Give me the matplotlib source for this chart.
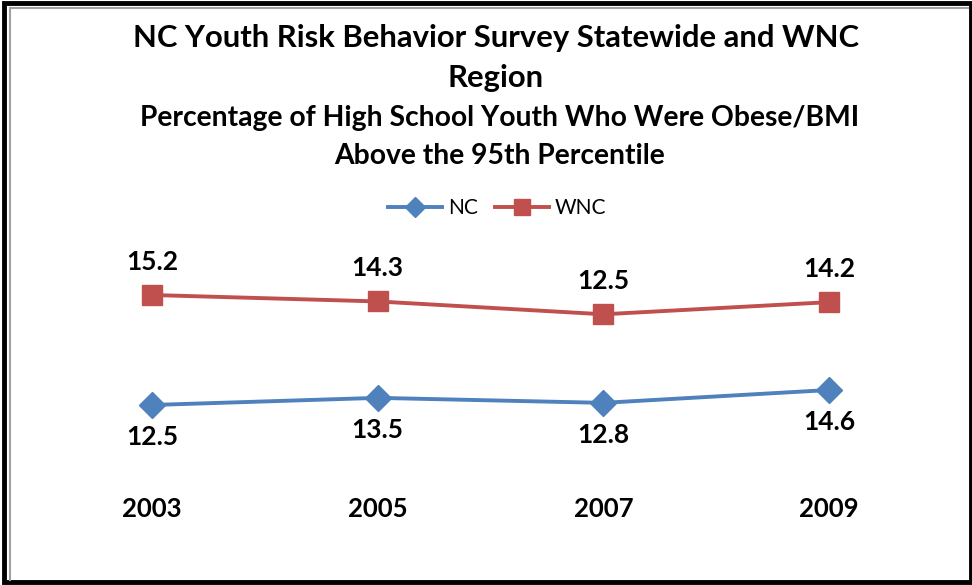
import matplotlib
matplotlib.use("Agg")
import matplotlib.pyplot as plt
from matplotlib.patches import Rectangle
from matplotlib.lines import Line2D

plt.rcParams["font.family"] = ["Lato", "DejaVu Sans"]

years = ["2003", "2005", "2007", "2009"]
nc_values = [12.5, 13.5, 12.8, 14.6]
wnc_values = [15.2, 14.3, 12.5, 14.2]

blue = "#4F81BD"
red = "#C0504D"

W, H = 972, 585
fig = plt.figure(figsize=(W / 100, H / 100), dpi=100)

# frame: grey inner edge on left/top, heavy black outer border
fig.lines.append(Line2D([9.5 / W, 9.5 / W], [5 / H, 1 - 7.5 / H], transform=fig.transFigure,
                        color="#a0a0a0", linewidth=1.5))
fig.lines.append(Line2D([9.5 / W, 968 / W], [1 - 7.5 / H, 1 - 7.5 / H], transform=fig.transFigure,
                        color="#a0a0a0", linewidth=1.5))
fig.patches.append(Rectangle((4 / W, 3 / H), 967 / W, 579 / H, transform=fig.transFigure,
                             fill=False, edgecolor="black", linewidth=3.5))

fig.text(496 / W, 1 - 38 / H, "NC Youth Risk Behavior Survey Statewide and WNC",
         ha="center", va="center", fontsize=22.3, fontweight="bold")
fig.text(496 / W, 1 - 78 / H, "Region", ha="center", va="center", fontsize=22.3, fontweight="bold")
fig.text(500 / W, 1 - 118 / H, "Percentage of High School Youth Who Were Obese/BMI",
         ha="center", va="center", fontsize=20.3, fontweight="bold")
fig.text(500 / W, 1 - 156 / H, "Above the 95th Percentile",
         ha="center", va="center", fontsize=20.3, fontweight="bold")

# plot area: x categories at 152, 378, 603, 829 px, y from 230 to 480 px
ax = fig.add_axes([39 / W, 1 - 480 / H, 903 / W, 250 / H])
ax2 = ax.twinx()
x = list(range(len(years)))

ln_nc, = ax.plot(x, nc_values, color=blue, linewidth=2.8, marker="D", markersize=13,
                 label="NC")
ln_wnc, = ax2.plot(x, wnc_values, color=red, linewidth=2.8, marker="s", markersize=14,
                   label="WNC")

ax.set_xlim(-0.5, 3.5)
ax.set_ylim(2.0, 37.0)
ax2.set_ylim(-10.7, 24.3)

for a in (ax, ax2):
    a.set_yticks([])
    for s in a.spines.values():
        s.set_visible(False)
ax.patch.set_visible(False)
ax.tick_params(axis="x", length=0, pad=12)
ax.set_xticks(x)
ax.set_xticklabels(years, fontsize=18.5, fontweight="bold")

for xi, v in zip(x, nc_values):
    ax.annotate(f"{v:.1f}", (xi, v), xytext=(0, -23), textcoords="offset points",
                ha="center", va="center", fontsize=19, fontweight="bold")
for xi, v in zip(x, wnc_values):
    ax2.annotate(f"{v:.1f}", (xi, v), xytext=(0, 24), textcoords="offset points",
                 ha="center", va="center", fontsize=19, fontweight="bold")

fig.legend(handles=[ln_nc, ln_wnc], loc="center", bbox_to_anchor=(497 / W, 1 - 208 / H),
           ncol=2, frameon=False, fontsize=15, handlelength=2.6, columnspacing=0.8,
           handletextpad=0.3, markerscale=0.8)

fig.savefig("out.png", dpi=100)
